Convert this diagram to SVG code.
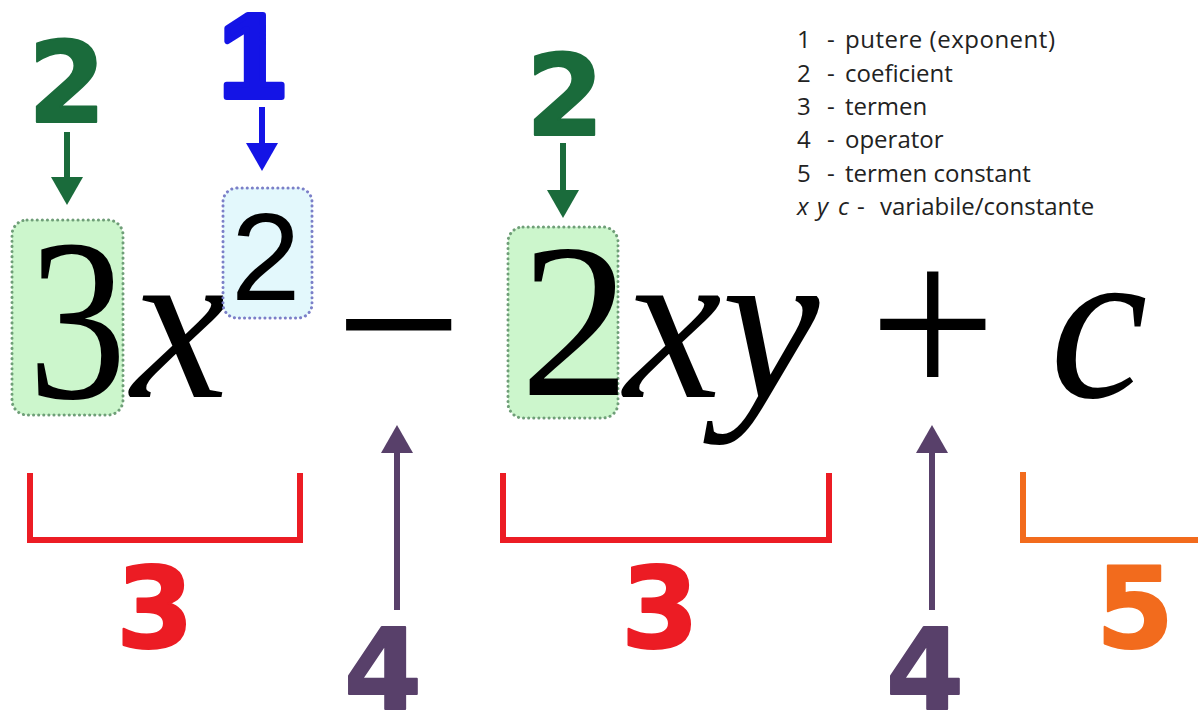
<svg xmlns="http://www.w3.org/2000/svg" width="1198" height="711" viewBox="0 0 1198 711">
<style>
.legend{font-family:"Open Sans","Liberation Sans",sans-serif;font-size:24px;fill:#222}
.legi{font-style:italic}
.math{font-family:"Liberation Serif","Times New Roman",serif;fill:#000}
.it{font-family:"Liberation Serif","Times New Roman",serif;font-style:italic;font-size:22px;fill:#000}
.lbl{font-family:"DejaVu Sans","Liberation Sans",sans-serif;font-weight:bold;font-size:112px;text-anchor:middle;stroke-width:2;stroke-linejoin:round}
.gbox{fill:#ccf6cc;stroke:#6f9e78;stroke-width:3;stroke-dasharray:0.1 5;stroke-linecap:round}
.bbox{fill:#e3f8fc;stroke:#7b7fc8;stroke-width:3;stroke-dasharray:0.1 5;stroke-linecap:round}
.br{fill:none;stroke-width:6;stroke-linejoin:miter}
.arr{stroke-width:6;fill:none}
</style>
<defs>
<marker id="hg" viewBox="0 0 28 32" refX="3" refY="16" markerWidth="28" markerHeight="32" markerUnits="userSpaceOnUse" orient="auto"><path d="M0,0 L28,16 L0,32 z" fill="#1a6b3b"/></marker>
<marker id="hb" viewBox="0 0 28 32" refX="3" refY="16" markerWidth="28" markerHeight="32" markerUnits="userSpaceOnUse" orient="auto"><path d="M0,0 L28,16 L0,32 z" fill="#1414e6"/></marker>
<marker id="hp" viewBox="0 0 28 32" refX="3" refY="16" markerWidth="28" markerHeight="32" markerUnits="userSpaceOnUse" orient="auto"><path d="M0,0 L28,16 L0,32 z" fill="#58406a"/></marker>
</defs>
<rect width="1198" height="711" fill="#fff"/>

<g id="legend">
<text class="legend" x="797" y="48">1</text><text class="legend" x="827" y="48">-</text><text class="legend" x="845" y="48" textLength="210">putere (exponent)</text>
<text class="legend" x="797" y="82">2</text><text class="legend" x="827" y="82">-</text><text class="legend" x="845" y="82">coeficient</text>
<text class="legend" x="797" y="115">3</text><text class="legend" x="827" y="115">-</text><text class="legend" x="845" y="115">termen</text>
<text class="legend" x="797" y="148">4</text><text class="legend" x="827" y="148">-</text><text class="legend" x="845" y="148">operator</text>
<text class="legend" x="797" y="182">5</text><text class="legend" x="827" y="182">-</text><text class="legend" x="845" y="182">termen constant</text>
<text class="legend" x="797" y="215"><tspan class="legi">x</tspan><tspan class="legi" x="817">y</tspan><tspan class="legi" x="838">c</tspan><tspan x="857">-</tspan><tspan x="880">variabile/constante</tspan></text>
</g>

<g id="coef1">
<rect class="gbox" x="12" y="220" width="111" height="195" rx="15"/>
<text class="math" transform="translate(28,398) scale(0.85,1)" font-size="232">3</text>
</g>
<g id="var-x1"><text class="it" transform="translate(131,397) scale(10)">x</text></g>
<g id="exponent">
<rect class="bbox" x="223" y="188" width="89" height="130" rx="14"/>
<text x="231" y="300" font-family="Liberation Sans, Arial, sans-serif" font-size="125" fill="#000">2</text>
</g>
<g id="minus"><text class="math" x="335" y="400" font-size="226">−</text></g>
<g id="coef2">
<rect class="gbox" x="508" y="227" width="110" height="191" rx="15"/>
<text class="math" x="520" y="395" font-size="220">2</text>
</g>
<g id="var-xy"><text class="it" transform="translate(624,397) scale(10)">xy</text></g>
<g id="plus"><text class="math" x="869" y="400" font-size="226">+</text></g>
<g id="var-c"><text class="it" transform="translate(1050,397) scale(10)">c</text></g>

<g id="label-2a"><text class="lbl" x="67" y="122" fill="#1a6b3b" stroke="#1a6b3b">2</text></g>
<g id="label-1"><text x="252" y="97" font-family="Liberation Sans, Arial, sans-serif" font-weight="bold" font-size="118" text-anchor="middle" fill="#1414e6" stroke="#1414e6" stroke-width="6" stroke-linejoin="round">1</text></g>
<g id="label-2b"><text class="lbl" x="565" y="135" fill="#1a6b3b" stroke="#1a6b3b">2</text></g>
<g id="label-3a"><text class="lbl" x="155" y="647" fill="#ec1c24" stroke="#ec1c24">3</text></g>
<g id="label-3b"><text class="lbl" x="660" y="647" fill="#ec1c24" stroke="#ec1c24">3</text></g>
<g id="label-4a"><text class="lbl" x="383" y="709" fill="#58406a" stroke="#58406a">4</text></g>
<g id="label-4b"><text class="lbl" x="925" y="709" fill="#58406a" stroke="#58406a">4</text></g>
<g id="label-5"><text class="lbl" x="1135" y="647" fill="#f26b1d" stroke="#f26b1d">5</text></g>

<g id="connectors">
<line class="arr" x1="67" y1="132" x2="67" y2="180" stroke="#1a6b3b" marker-end="url(#hg)"/>
<line class="arr" x1="563" y1="143" x2="563" y2="193" stroke="#1a6b3b" marker-end="url(#hg)"/>
<line class="arr" x1="262" y1="107" x2="262" y2="146" stroke="#1414e6" marker-end="url(#hb)"/>
<line class="arr" x1="397" y1="610" x2="397" y2="450" stroke="#58406a" marker-end="url(#hp)"/>
<line class="arr" x1="932" y1="610" x2="932" y2="450" stroke="#58406a" marker-end="url(#hp)"/>
<polyline class="br" points="30,473 30,540 300,540 300,473" stroke="#ec1c24"/>
<polyline class="br" points="503,473 503,540 829,540 829,473" stroke="#ec1c24"/>
<polyline class="br" points="1023,472 1023,540 1200,540" stroke="#f26b1d"/>
</g>
</svg>
